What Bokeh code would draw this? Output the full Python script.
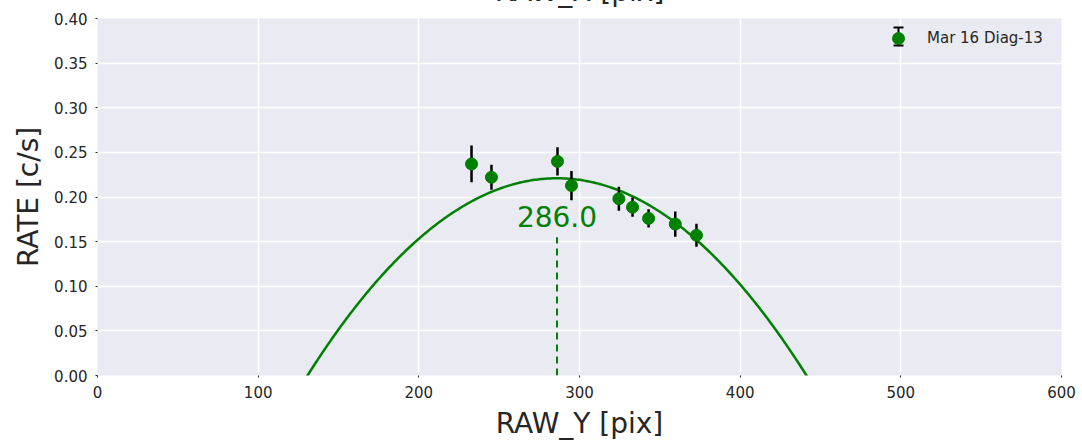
import numpy as np
from bokeh.plotting import figure
from bokeh.models import (ColumnDataSource, Range1d, FixedTicker, PrintfTickFormatter,
                          Label, Legend, LegendItem, Whisker, TeeHead)
from bokeh.embed import file_html
from bokeh.resources import INLINE

# ---- data ----
raw_y = [232.8, 245.2, 286.3, 295.0, 324.5, 333.0, 343.0, 359.6, 372.8]
rate = [0.2370, 0.2221, 0.2399, 0.2128, 0.1980, 0.1886, 0.1760, 0.1697, 0.1571]
rate_err = [0.0206, 0.0141, 0.0158, 0.0164, 0.0134, 0.0108, 0.0102, 0.0141, 0.0128]
series_label = "Mar 16 Diag-13"

# parabola fit parameters
fit_center = 286.0
fit_peak = 0.221
fit_halfwidth = 155.3

x_ticks = [0, 100, 200, 300, 400, 500, 600]
y_ticks = [0.00, 0.05, 0.10, 0.15, 0.20, 0.25, 0.30, 0.35, 0.40]

# annotation positions
marker_top = 0.155
marker_text_y = 0.1777

FONT = "DejaVu Sans"
TXT = "#262626"
GREEN = "#008000"

HIDDEN = 40  # top strip of the canvas pushed above the window (title is cut off there)

p = figure(width=1082, height=442 + HIDDEN, output_backend="svg", toolbar_location=None,
           x_range=Range1d(0, 600), y_range=Range1d(0, 0.40),
           min_border_left=97, min_border_right=21, min_border_top=18 + HIDDEN,
           min_border_bottom=65, margin=(-HIDDEN, 0, 0, 0))
p.background_fill_color = "#EAEAF2"
p.border_fill_color = "white"
p.outline_line_color = None

p.title.text = "RAW_X [pix]"
p.title.align = "center"
p.title.vertical_align = "bottom"
p.title.standoff = 21
p.title.text_font = FONT
p.title.text_font_size = "28px"
p.title.text_font_style = "normal"
p.title.text_color = TXT

for ax in (p.xaxis[0], p.yaxis[0]):
    ax.axis_line_color = None
    ax.major_tick_line_color = TXT
    ax.major_tick_out = 2
    ax.major_tick_in = 0
    ax.minor_tick_line_color = None
    ax.major_label_text_font = FONT
    ax.major_label_text_font_size = "15px"
    ax.major_label_text_color = TXT
    ax.axis_label_text_font = FONT
    ax.axis_label_text_font_size = "28px"
    ax.axis_label_text_font_style = "normal"
    ax.axis_label_text_color = TXT

p.xaxis.ticker = FixedTicker(ticks=x_ticks)
p.yaxis.ticker = FixedTicker(ticks=y_ticks)
p.yaxis.formatter = PrintfTickFormatter(format="%.2f")
p.xaxis.axis_label = "RAW_Y [pix]"
p.yaxis.axis_label = "RATE [c/s]"
p.xaxis.major_label_standoff = 8
p.yaxis.major_label_standoff = 8
p.xaxis.axis_label_standoff = 6
p.yaxis.axis_label_standoff = 6

p.xgrid.grid_line_color = "white"
p.ygrid.grid_line_color = "white"
p.xgrid.grid_line_width = 1.5
p.ygrid.grid_line_width = 1.5

# fit curve
xf = np.linspace(0, 600, 601)
yf = fit_peak * (1 - ((xf - fit_center) / fit_halfwidth) ** 2)
p.line(xf, yf, line_color=GREEN, line_width=2.5)

# vertical marker of the fit centre
p.segment(x0=[fit_center], y0=[0], x1=[fit_center], y1=[marker_top],
          line_color=GREEN, line_width=2, line_dash="7 5")
p.add_layout(Label(x=fit_center, y=marker_text_y, text=f"{fit_center:.1f}",
                   text_align="center", text_baseline="middle",
                   text_font=FONT, text_font_size="28px", text_color=GREEN))

# data with error bars
src = ColumnDataSource(dict(x=raw_y, y=rate,
                            lo=[r - e for r, e in zip(rate, rate_err)],
                            hi=[r + e for r, e in zip(rate, rate_err)]))
p.segment(x0="x", y0="lo", x1="x", y1="hi", source=src, line_color="black", line_width=2.5)
pts = p.scatter("x", "y", source=src, size=12, fill_color=GREEN, line_color=GREEN)

# legend error bar decoration
p.add_layout(Whisker(base=801, lower=330, upper=348, dimension="height",
                     base_units="screen", lower_units="screen", upper_units="screen",
                     line_color="black", line_width=2,
                     upper_head=TeeHead(size=10, line_color="black", line_width=2),
                     lower_head=TeeHead(size=10, line_color="black", line_width=2)))

legend = Legend(items=[LegendItem(label=series_label, renderers=[pts])],
                location=(786, 322), glyph_width=30, glyph_height=30, padding=5,
                label_standoff=14, margin=0, border_line_color=None,
                background_fill_alpha=0,
                label_text_font=FONT, label_text_font_size="15px", label_text_color=TXT)
p.add_layout(legend)

open("out.html", "w").write(file_html(p, INLINE))
